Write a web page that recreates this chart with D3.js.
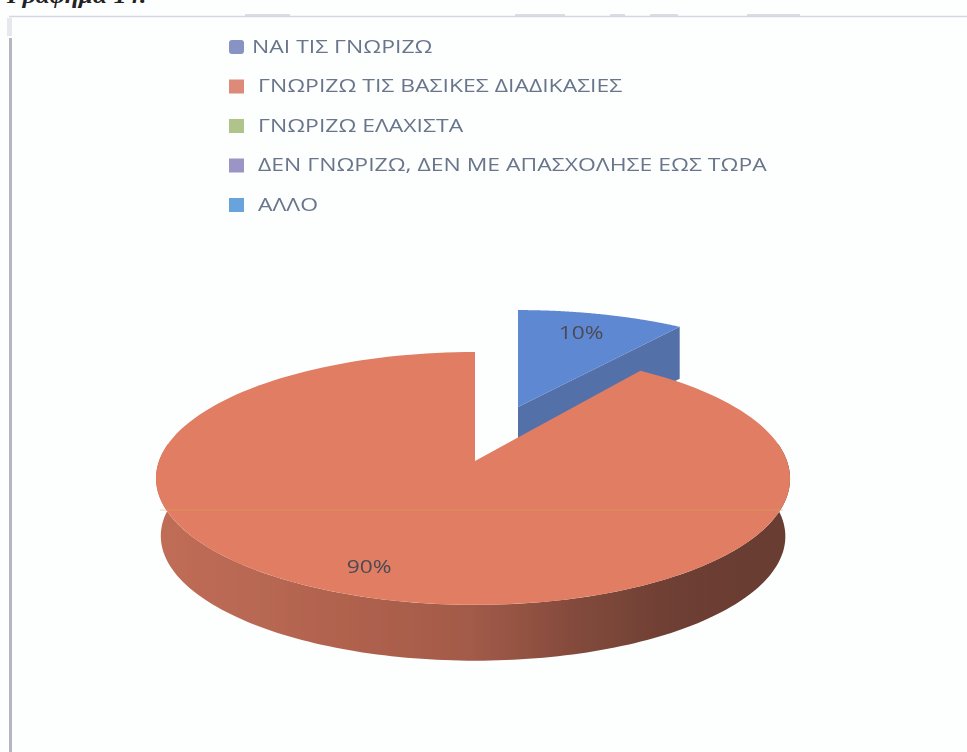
<!DOCTYPE html>
<html><head><meta charset="utf-8">
<script src="https://cdn.jsdelivr.net/npm/d3@7"></script>
<style>html,body{margin:0;padding:0;background:#fff;overflow:hidden}svg{display:block}</style>
</head><body><svg id="c" width="967" height="752"></svg>
<script>
const categories = ["ΝΑΙ ΤΙΣ ΓΝΩΡΙΖΩ","ΓΝΩΡΙΖΩ ΤΙΣ ΒΑΣΙΚΕΣ ΔΙΑΔΙΚΑΣΙΕΣ","ΓΝΩΡΙΖΩ ΕΛΑΧΙΣΤΑ","ΔΕΝ ΓΝΩΡΙΖΩ, ΔΕΝ ΜΕ ΑΠΑΣΧΟΛΗΣΕ ΕΩΣ ΤΩΡΑ","ΑΛΛΟ"];
const values = [0,90,0,0,10];
const legendColors = ["#8793c2","#dd8b78","#afc38a","#9b95c6","#68a3dc"];
const topColors = {1:"#e07d62",4:"#5f88d2"};
const heading = "Γράφημα 14:";

const svg = d3.select("#c");
const defs = svg.append("defs");
const soft = defs.append("filter").attr("id","soft").attr("x","-5%").attr("y","-5%").attr("width","110%").attr("height","110%");
soft.append("feGaussianBlur").attr("stdDeviation",0.55);
const grad = defs.append("linearGradient").attr("id","side").attr("gradientUnits","userSpaceOnUse")
  .attr("x1",160).attr("x2",786).attr("y1",0).attr("y2",0);
[[0,"#c06d57"],[0.3,"#b0624e"],[0.5,"#a25a48"],[0.68,"#80493b"],[0.82,"#6e3f34"],[1,"#693c32"]]
  .forEach(([o,c])=>grad.append("stop").attr("offset",o).attr("stop-color",c));

svg.append("rect").attr("width",967).attr("height",752).attr("fill","#fdfefe");
// page frame
const frame=svg.append("g").attr("filter","url(#soft)");
frame.append("path").attr("d","M9 16.5H967").attr("stroke","#d3d7df").attr("stroke-width",1.6).attr("fill","none");
frame.append("path").attr("d","M10.5 38V752").attr("stroke","#b3b7c2").attr("stroke-width",3).attr("fill","none");
frame.append("path").attr("d","M9.5 18V36").attr("stroke","#e6e8ec").attr("stroke-width",5).attr("fill","none");
frame.append("path").attr("d","M245 15H290M515 15H565M610 15H625M650 15H678M747 15H800")
  .attr("stroke","#cfd3db").attr("stroke-width",1.5).attr("fill","none");
svg.append("text").text(heading).attr("transform","translate(7,3) scale(1.28,1)")
  .attr("font-family","Liberation Serif").attr("font-weight","bold").attr("font-style","italic")
  .attr("font-size",20).attr("fill","#222");

// perspective projection of the pie plane
const x0=475,y0=461,a=124,b=314,k=0.138;
function project(X,Y,o){
  const f=1/(1+k*(Y+o.ey));
  return [x0+o.ex+o.s*(o.bx*b*X*f-o.lean*X*X), y0+o.depth-o.s*a*(Y+o.ey)*f];
}
const polar=(t,r)=>[r*Math.sin(t),r*Math.cos(t)];
const line=d3.line();
const deg=Math.PI/180;

const arcs=d3.pie().sort(null).startAngle(36*deg).endAngle(396*deg)(values);
const red=arcs[1], blue=arcs[4];
const geom={
  1:{ex:0,ey:0,bx:1,lean:2},
  4:{ex:43,ey:0.463,bx:1.03,lean:0}
};
const wall={depth:58,s:0.985};
const pie=svg.append("g").attr("filter","url(#soft)");

function samples(t0,t1,n=160){return d3.range(n+1).map(i=>t0+(t1-t0)*i/n);}
function sectorPath(d,o){
  const rim=samples(d.startAngle,d.endAngle).map(t=>{const p=polar(t,1);return project(p[0],p[1],o);});
  return line([project(0,0,o),...rim])+"Z";
}

// blue slice: inner wall then top face
(function(){
  const g=geom[4];
  const T={...g,s:1,depth:0}, B={...g,s:1,depth:52};
  const e=polar(blue.endAngle,1);
  pie.append("path").datum(blue)
    .attr("d",line([project(0,0,T),project(e[0],e[1],T),project(e[0],e[1],B),project(0,0,B)])+"Z")
    .attr("fill","#5270a9");
  pie.append("path").datum(blue).attr("d",d=>sectorPath(d,T)).attr("fill",topColors[4]);
})();

// red slice: outer wall then top face
(function(){
  const g=geom[1];
  const T={...g,s:1,depth:0}, B={...g,s:wall.s,depth:wall.depth};
  const ang=samples(82*deg,278*deg);
  const top=ang.map(t=>{const p=polar(t,1);return project(p[0],p[1],T);});
  const bot=ang.map(t=>{const p=polar(t,1);return project(p[0],p[1],B);}).reverse();
  pie.append("path").attr("d",line([...top,...bot])+"Z").attr("fill","url(#side)");
  pie.append("path").datum(red).attr("d",d=>sectorPath(d,T)).attr("fill",topColors[1]);
  // faint scan streak across the disc
  pie.append("path").attr("d","M160 510H783").attr("stroke","#e5a55f").attr("stroke-width",1).attr("opacity",.5);
})();

// data labels
const pct=d=>Math.round(d.value/d3.sum(values)*100)+"%";
[[red,{...geom[1],s:1,depth:0},0.8,-19,2],[blue,{...geom[4],s:1,depth:0},0.62,9,-13]].forEach(([d,o,r,dx,dy])=>{
  const p=polar((d.startAngle+d.endAngle)/2,r), q=project(p[0],p[1],o);
  svg.append("text").text(pct(d)).attr("transform",`translate(${q[0]+dx},${q[1]+dy}) scale(1.3,1)`)
    .attr("text-anchor","middle").attr("dominant-baseline","middle").attr("filter","url(#soft)")
    .attr("font-family","Open Sans").attr("font-size",17.5).attr("fill","#4c4a55");
});

// legend
const ly=d3.scalePoint().domain(categories).range([47,205]);
const lg=svg.append("g").attr("filter","url(#soft)");
categories.forEach((c,i)=>{
  lg.append("rect").attr("x",229).attr("y",ly(c)-7).attr("width",15).attr("height",14).attr("rx",i?0:3).attr("fill",legendColors[i]);
  lg.append("text").text(c).attr("transform",`translate(${i?258:252},${ly(c)+1}) scale(1.275,1)`).attr("dominant-baseline","middle")
    .attr("font-family","Open Sans").attr("font-size",18).attr("fill","#69758a");
});
</script></body></html>
